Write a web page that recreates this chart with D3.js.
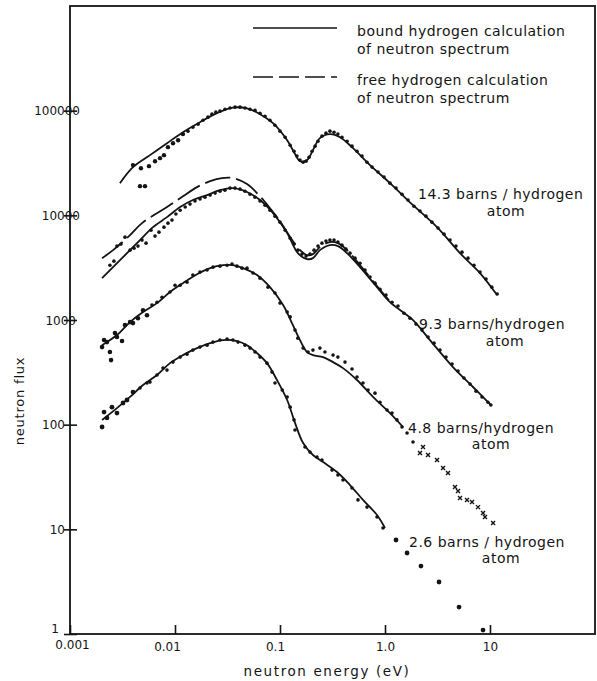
<!DOCTYPE html>
<html>
<head>
<meta charset="utf-8">
<script src="https://cdn.jsdelivr.net/npm/d3@7"></script>
<style>
  html, body { margin: 0; padding: 0; background: #fff; }
  svg { display: block; font-family: "DejaVu Sans", sans-serif; }
</style>
</head>
<body>
<svg id="chart" width="597" height="681"></svg>
<script>
// ---- axes ----
const xTickValues = [0.001, 0.01, 0.1, 1, 10];
const xTickLabels = ["0.001", "0.01", "0.1", "1.0", "10"];
const yTickValues = [1, 10, 100, 1000, 10000, 100000];
const yTickLabels = ["1", "10", "100", "1000", "10000", "100000"];

// ---- measured spectra (energy in eV, flux) ----
// 14.3 barns / hydrogen atom
const energyA = [0.00398,0.00474,0.00565,0.00645,0.00720,0.00785,0.00857,0.00957,0.0107,0.0119,0.0133,0.0148,0.0166,0.0185,0.0206,0.0225,0.0245,0.0268,0.0299,0.0334,0.0373,0.0416,0.0464,0.0518,0.0578,0.0645,0.0720,0.0803,0.0896,0.100,0.112,0.125,0.136,0.145,0.155,0.166,0.177,0.189,0.202,0.216,0.230,0.251,0.274,0.299,0.327,0.356,0.389,0.435,0.485,0.541,0.604,0.674,0.752,0.858,0.978,1.116,1.273,1.452,1.656,1.888,2.154,2.455,2.80,3.20,3.65,4.16,4.74,5.41,6.17,7.04,8.03,9.16,10.4,11.7,0.00464,0.00518];
const fluxA = [30200,28200,29500,32900,35200,37600,44800,48900,52200,59700,63700,69500,74300,81100,86700,92600,96800,98900,103000,106000,108000,108000,106000,103000,101000,94600,88500,81100,72600,63700,55800,46800,41000,36800,33700,32200,32900,35900,41000,45800,51100,57100,61000,63700,62300,59700,55800,51100,45800,41000,36800,32200,28900,25900,23200,20300,18200,15900,14000,12200,11000,9820,8610,7550,6610,5800,5080,4450,3900,3340,2870,2460,2060,1770,19000,19000];

// 9.3 barns / hydrogen atom
const energyB = [0.00240,0.00262,0.00280,0.00306,0.00334,0.00373,0.00407,0.00444,0.00485,0.00530,0.00591,0.00645,0.00704,0.00785,0.00857,0.00936,0.0102,0.0112,0.0125,0.0139,0.0155,0.0173,0.0193,0.0216,0.0241,0.0268,0.0299,0.0334,0.0373,0.0416,0.0464,0.0518,0.0578,0.0645,0.0720,0.0803,0.0896,0.100,0.112,0.125,0.136,0.148,0.162,0.177,0.193,0.211,0.230,0.251,0.274,0.299,0.327,0.356,0.389,0.425,0.464,0.518,0.578,0.645,0.720,0.803,0.896,1.022,1.166,1.33,1.517,1.730,1.973,2.25,2.57,2.93,3.34,3.81,4.35,4.96,5.65,6.45,7.36,8.39,9.57,10.2];
const fluxB = [3340,3650,5080,5310,6190,4650,4860,5080,5800,5420,7210,6330,6910,7710,8420,9000,10300,11200,12000,12800,13700,14300,14900,15600,16300,17000,17400,18200,18200,17800,17000,15900,14900,13700,12500,11200,9820,8610,7210,6050,5310,4650,4260,4080,4260,4650,5080,5420,5670,5800,5800,5550,5190,4750,4350,3900,3490,3000,2570,2250,1970,1730,1480,1360,1160,1040,914,801,687,601,516,442,379,325,279,244,209,184,164,154];

// 4.8 barns / hydrogen atom
const energyC = [0.00202,0.00211,0.00225,0.00240,0.00246,0.00268,0.00280,0.00313,0.00334,0.00373,0.00398,0.00444,0.00496,0.00541,0.00604,0.00674,0.00752,0.00896,0.0100,0.0112,0.0130,0.0148,0.0173,0.0202,0.0230,0.0268,0.0313,0.0349,0.0389,0.0435,0.0485,0.0553,0.0645,0.0769,0.0896,0.100,0.117,0.125,0.139,0.148,0.166,0.185,0.206,0.240,0.268,0.320,0.356,0.416,0.485,0.541,0.617,0.689,0.803,0.896,1.045,1.166,1.30,1.452,1.622,1.848,2.154,2.301,2.57,3.13,3.57,3.98,4.64,4.96,5.18,6.04,6.74,7.69,8.58,8.96,10.7];
const fluxC = [551,643,615,494,414,750,687,629,894,955,934,1040,1240,1110,1390,1480,1650,1850,2150,2150,2300,2690,2870,3000,3200,3270,3340,3420,3270,3130,3130,2810,2510,2060,1810,1450,1190,1070,801,671,539,494,516,539,494,462,442,396,340,285,250,214,200,164,138,129,111,95.0,83.2,68.2,53.6,61.1,51.3,45.9,38.5,34.5,25.4,23.2,19.9,19.1,18.2,16.3,14.3,13.1,11.5];

// 2.6 barns / hydrogen atom
const energyD = [0.00202,0.00211,0.00225,0.00251,0.00280,0.00320,0.00349,0.00398,0.00464,0.00541,0.00578,0.00674,0.00769,0.00839,0.00957,0.0112,0.0130,0.0148,0.0173,0.0202,0.0230,0.0268,0.0313,0.0356,0.0398,0.0464,0.0518,0.0578,0.0645,0.0752,0.0839,0.0896,0.105,0.117,0.125,0.136,0.139,0.173,0.193,0.225,0.251,0.313,0.356,0.398,0.485,0.553,0.674,0.839,0.957,1.273,1.622,2.20,3.27,5.07,8.58];
const fluxD = [95.0,132,116,147,129,161,172,205,224,250,255,298,347,332,396,442,472,516,551,575,615,643,657,643,615,575,539,494,442,387,318,250,214,184,147,111,88.9,61.1,54.7,49.1,45.9,36.8,33.0,29.6,24.8,19.1,16.3,13.1,10.3,7.91,5.94,4.46,3.14,1.81,1.09];

// ---- calculated spectra ----
const boundA_E = [0.00299,0.00398,0.00578,0.00839,0.0119,0.0173,0.0251,0.0356,0.0485,0.0645,0.0858,0.117,0.136,0.155,0.181,0.206,0.240,0.299,0.373,0.496,0.720,1.116,1.848,3.13,5.18,8.03,11.7];
const boundA_F = [20300,28900,37600,48900,62300,77600,94600,107000,105000,92600,76000,52200,40100,32900,33700,42000,54600,59700,55800,43800,30200,20300,12500,7710,4350,2810,1730];

const boundB_E = [0.00202,0.00257,0.00349,0.00464,0.00617,0.00839,0.0112,0.0148,0.0202,0.0268,0.0356,0.0485,0.0645,0.0858,0.117,0.148,0.181,0.206,0.240,0.299,0.356,0.435,0.578,0.839,1.116,1.848,2.68,4.44,6.89,10.2];
const boundB_F = [2510,3200,4350,5800,7710,9610,12000,14000,15600,17400,18200,16700,14000,10500,6760,4350,3820,3900,4650,5190,5080,4350,3200,2060,1480,998,643,355,229,154];

const freeB_E = [0.00202,0.00257,0.00373,0.00485,0.00839,0.0119,0.0162,0.0216,0.0280,0.0356,0.0485,0.0645,0.0803,0.100,0.125,0.155,0.181,0.206,0.240,0.299,0.356,0.435,0.578,0.839,1.116];
const freeB_F = [3900,4650,6470,8420,12000,15200,18600,21200,22700,22700,19900,15200,11700,8810,6190,4650,4170,4260,4970,5550,5420,4650,3340,2110,1500];

const boundC_E = [0.00202,0.00280,0.00373,0.00496,0.00674,0.00896,0.0119,0.0162,0.0216,0.0287,0.0356,0.0444,0.0604,0.0803,0.107,0.130,0.155,0.181,0.206,0.257,0.320,0.398,0.541,0.769,1.116,1.484];
const boundC_F = [575,718,955,1190,1450,1850,2250,2740,3130,3340,3340,3130,2690,2060,1390,934,643,494,462,442,396,347,267,184,129,95.0];

const boundD_E = [0.00202,0.00280,0.00373,0.00496,0.00674,0.00896,0.0119,0.0162,0.0216,0.0287,0.0389,0.0485,0.0604,0.0752,0.0936,0.117,0.139,0.166,0.206,0.257,0.349,0.464,0.617,0.839,1.00];
const boundD_F = [111,144,184,239,298,387,462,539,601,643,629,575,483,387,267,172,104,66.7,51.3,44.0,35.3,26.5,19.1,13.7,10.3];

// ---- labels ----
const seriesLabels = [
  ["14.3 barns / hydrogen", "atom"],
  ["9.3 barns/hydrogen", "atom"],
  ["4.8 barns/hydrogen", "atom"],
  ["2.6 barns / hydrogen", "atom"]
];
const legendLabels = [
  ["bound hydrogen calculation", "of neutron spectrum"],
  ["free hydrogen calculation", "of neutron spectrum"]
];

// ---- drawing ----
const ink = "#141414";
const svg = d3.select("#chart");
const x = d3.scaleLog().domain([0.001, 100]).range([70, 595]);
const y = d3.scaleLog().domain([1, 1e6]).range([634, 6]);
const zip = (es, fs) => es.map((e, i) => [e, fs[i]]);

// plot frame
svg.append("rect")
  .attr("x", x.range()[0]).attr("y", y.range()[1])
  .attr("width", x.range()[1] - x.range()[0])
  .attr("height", y.range()[0] - y.range()[1])
  .attr("fill", "none").attr("stroke", ink).attr("stroke-width", 1.8);

// bottom axis: ticks point into the plot
const xLabelShift = [2, -8, -5, 0, 0];
const gx = svg.append("g")
  .attr("transform", `translate(0,${y.range()[0]})`)
  .call(d3.axisBottom(x).tickValues(xTickValues)
    .tickFormat((d, i) => xTickLabels[i]).tickSize(-9).tickPadding(8));
gx.select(".domain").remove();
gx.selectAll(".tick line").attr("stroke", ink).attr("stroke-width", 1.6);
gx.selectAll(".tick text")
  .attr("fill", ink).attr("font-size", 12)
  .attr("font-family", "DejaVu Sans, sans-serif")
  .attr("dx", (d, i) => xLabelShift[i])
  .attr("dy", (d, i) => i === 0 ? "0.55em" : "0.75em");

// left axis: ticks cross the axis line
const yLabelEnd = [-11, -5, -5, 6, 10, 10];
const gy = svg.append("g")
  .attr("transform", `translate(${x.range()[0]},0)`)
  .call(d3.axisLeft(y).tickValues(yTickValues)
    .tickFormat((d, i) => yTickLabels[i]).tickSize(6));
gy.select(".domain").remove();
gy.selectAll(".tick line").attr("x1", 7).attr("stroke", ink).attr("stroke-width", 1.6);
gy.selectAll(".tick text")
  .attr("fill", ink).attr("font-size", 12)
  .attr("font-family", "DejaVu Sans, sans-serif")
  .attr("x", (d, i) => yLabelEnd[i])
  .attr("dy", (d, i) => i === 0 ? "-0.1em" : "0.34em");

// axis titles
svg.append("text")
  .attr("x", 327).attr("y", 676)
  .attr("text-anchor", "middle")
  .attr("font-size", 13.5).attr("letter-spacing", 1.6).attr("fill", ink)
  .text("neutron energy (eV)");
svg.append("text")
  .attr("transform", "translate(24,401) rotate(-90)")
  .attr("text-anchor", "middle")
  .attr("font-size", 13).attr("letter-spacing", 0.8).attr("fill", ink)
  .text("neutron flux");

// calculated curves
const line = d3.line()
  .x(d => x(d[0])).y(d => y(d[1]))
  .curve(d3.curveCatmullRom.alpha(0.5));
const curves = svg.append("g").attr("fill", "none").attr("stroke", ink)
  .attr("stroke-width", 1.8).attr("stroke-linejoin", "round");
[zip(boundA_E, boundA_F), zip(boundB_E, boundB_F), zip(boundC_E, boundC_F), zip(boundD_E, boundD_F)]
  .forEach(pts => curves.append("path").attr("d", line(pts)));
curves.append("path").attr("d", line(zip(freeB_E, freeB_F)))
  .attr("stroke-dasharray", "26,6");

// measured points
const dots = svg.append("g").attr("fill", ink).attr("stroke", "none");
function drawDots(es, fs, r) {
  dots.selectAll(null).data(zip(es, fs)).enter().append("circle")
    .attr("cx", d => x(d[0])).attr("cy", d => y(d[1]))
    .attr("r", d => r(d));
}
drawDots(energyA, fluxA, d => d[0] < 0.012 ? 2.2 : 1.8);
drawDots(energyB, fluxB, d => 1.8);
drawDots(energyC.filter(e => e <= 2.0), fluxC.filter((f, i) => energyC[i] <= 2.0), d => d[0] < 0.006 ? 2.3 : 1.8);
drawDots(energyD, fluxD, d => (d[0] < 0.004 || d[0] > 1.1) ? 2.4 : 1.8);

// small cross marks on the 4.8 barns tail
const crosses = zip(energyC, fluxC).filter(d => d[0] > 2.0);
svg.append("g").attr("stroke", ink).attr("stroke-width", 1.4)
  .selectAll("path").data(crosses).enter().append("path")
  .attr("d", d => {
    const cx = x(d[0]), cy = y(d[1]);
    return `M${cx - 2},${cy - 2}L${cx + 2},${cy + 2}M${cx - 2},${cy + 2}L${cx + 2},${cy - 2}`;
  });

// series labels
const labelPos = [[418, 199, 506, 216], [419, 329, 505, 346], [408, 433, 491, 449], [409, 547, 501, 563]];
seriesLabels.forEach((lab, i) => {
  const p = labelPos[i];
  svg.append("text").attr("x", p[0]).attr("y", p[1])
    .attr("font-size", 14).attr("letter-spacing", 0.5).attr("fill", ink).text(lab[0]);
  svg.append("text").attr("x", p[2]).attr("y", p[3]).attr("text-anchor", "middle")
    .attr("font-size", 14).attr("letter-spacing", 0.5).attr("fill", ink).text(lab[1]);
});

// legend
const legend = svg.append("g");
[[28, null], [77, "20,6"]].forEach((row, i) => {
  legend.append("line").attr("x1", 253).attr("x2", 337)
    .attr("y1", row[0]).attr("y2", row[0])
    .attr("stroke", ink).attr("stroke-width", 1.7)
    .attr("stroke-dasharray", row[1]);
  legend.append("text").attr("x", 357).attr("y", row[0] + 8)
    .attr("font-size", 14).attr("letter-spacing", 0.5).attr("fill", ink).text(legendLabels[i][0]);
  legend.append("text").attr("x", 357).attr("y", row[0] + 26)
    .attr("font-size", 14).attr("letter-spacing", 0.5).attr("fill", ink).text(legendLabels[i][1]);
});
</script>
</body>
</html>
